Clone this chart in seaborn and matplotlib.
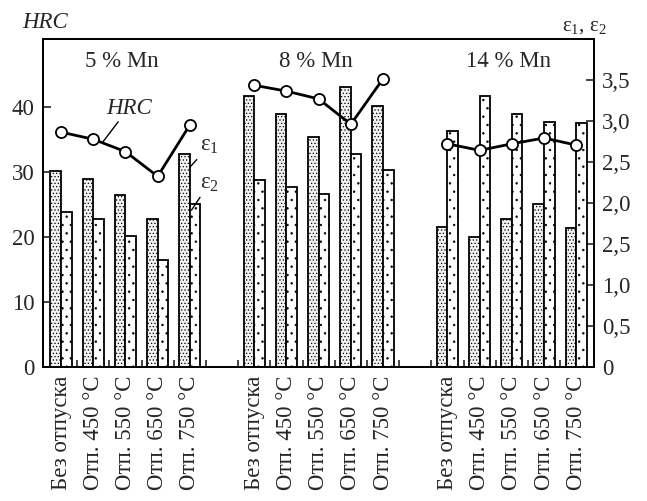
import numpy as np
import pandas as pd
import seaborn as sns
import matplotlib.pyplot as plt

# Data
groups = ['5 % Mn', '8 % Mn', '14 % Mn']
treatments = ['Без отпуска', 'Отп. 450 °C', 'Отп. 550 °C', 'Отп. 650 °C', 'Отп. 750 °C']
eps1 = [2.39, 2.29, 2.10, 1.80, 2.60,
        3.30, 3.09, 2.80, 3.41, 3.18,
        1.71, 1.59, 1.80, 1.99, 1.69]
eps2 = [1.89, 1.80, 1.60, 1.30, 1.99,
        2.28, 2.20, 2.11, 2.60, 2.40,
        2.88, 3.30, 3.09, 2.99, 2.98]
hrc = [36.1, 35.0, 33.1, 29.3, 37.2,
       43.3, 42.4, 41.2, 37.3, 44.3,
       34.3, 33.3, 34.3, 35.2, 34.1]
left_ticks = [0, 10, 20, 30, 40]
right_ticks = [0, 0.5, 1.0, 1.5, 2.0, 2.5, 3.0, 3.5]
right_labels = ['0', '0,5', '1,0', '2,5', '2,0', '2,5', '3,0', '3,5']

sns.set_style('white')
plt.rcParams['font.family'] = ['Liberation Serif', 'DejaVu Serif']
plt.rcParams['mathtext.fontset'] = 'custom'
plt.rcParams['mathtext.rm'] = 'Liberation Serif'
plt.rcParams['mathtext.it'] = 'Liberation Serif:italic'
plt.rcParams['hatch.linewidth'] = 0.5
FS = 15
FX = 16.5

# one empty slot between the groups
pos = [g * 6 + i for g in range(3) for i in range(5)]
df = pd.DataFrame({
    'group': np.repeat(groups, 5),
    'treatment': treatments * 3,
    'pos': pos,
    'eps1': eps1,
    'eps2': eps2,
    'hrc': hrc,
})

fig = plt.figure(figsize=(6.47, 5.01), dpi=100)
ax = fig.add_axes([0.0665, 0.2675, 0.8515, 0.6545])
ax2 = ax.twinx()

w = 0.33
sns.barplot(data=df.assign(x=df['pos'] - w / 2), x='x', y='eps1', native_scale=True,
            width=w, color='#f2f2f2', edgecolor='black', linewidth=1.3,
            hatch='.....', errorbar=None, ax=ax2)
n1 = len(ax2.patches)
sns.barplot(data=df.assign(x=df['pos'] + w / 2), x='x', y='eps2', native_scale=True,
            width=w, color='white', edgecolor='black', linewidth=1.3,
            hatch='..', errorbar=None, ax=ax2)
# lighter stipple, black outline
for i, p in enumerate(ax2.patches):
    if hasattr(p, 'set_hatchcolor'):
        p.set_hatchcolor('#555555' if i < n1 else '#999999')

sns.lineplot(data=df, x='pos', y='hrc', units='group', estimator=None,
             color='black', linewidth=2, marker='o', markersize=8,
             markerfacecolor='white', markeredgecolor='black',
             markeredgewidth=1.3, ax=ax)

ax.set_zorder(ax2.get_zorder() + 1)
ax.patch.set_visible(False)

ax.set_xlim(-0.56, 16.55)
ax.set_ylim(0, 50.4)
ax2.set_ylim(0, 4.0)

ax.set_xticks(pos)
ax.set_xticklabels(treatments * 3, rotation=90, fontsize=FX)
ax.set_xticks(np.arange(0.5, 16, 1), minor=True)
ax.tick_params(axis='x', which='major', length=0, pad=6)
ax.tick_params(axis='x', which='minor', direction='in', length=5, width=1.2, bottom=True)
ax.set_yticks(left_ticks)
ax.tick_params(axis='y', direction='in', length=6, width=1.2, labelsize=FX, pad=6)
ax2.set_yticks(right_ticks)
ax2.set_yticklabels(right_labels)
ax2.tick_params(axis='y', direction='in', length=6, width=1.2, labelsize=FX, pad=6)
ax.set_xlabel('')
ax.set_ylabel('')
ax2.set_ylabel('')
for a in (ax, ax2):
    for s in a.spines.values():
        s.set_color('black')
        s.set_linewidth(1.3)

# group titles
for g, name in enumerate(groups):
    ax.text(g * 6 + 1.9, 46.9, name, ha='center', va='center', fontsize=FX)

line = dict(arrowstyle='-', color='black', lw=1, shrinkA=0, shrinkB=0)
ax.annotate('HRC', xy=(1.3, 34.6), xytext=(2.1, 39.8), ha='center', va='center',
            fontsize=FX, style='italic', arrowprops=line)
ax.annotate('$\\mathrm{ε}_1$', xy=(4.0, 30.7), xytext=(4.6, 34.0), ha='center',
            va='center', fontsize=FX, arrowprops=line)
ax.annotate('$\\mathrm{ε}_2$', xy=(4.05, 24.1), xytext=(4.6, 28.2), ha='center',
            va='center', fontsize=FX, arrowprops=line)

fig.text(22 / 647, 1 - 28 / 501, 'HRC', style='italic', fontsize=FX)
fig.text(562 / 647, 1 - 31 / 501, '$\\mathrm{ε}_1$, $\\mathrm{ε}_2$', fontsize=FS)

fig.savefig('out.png', dpi=100)
